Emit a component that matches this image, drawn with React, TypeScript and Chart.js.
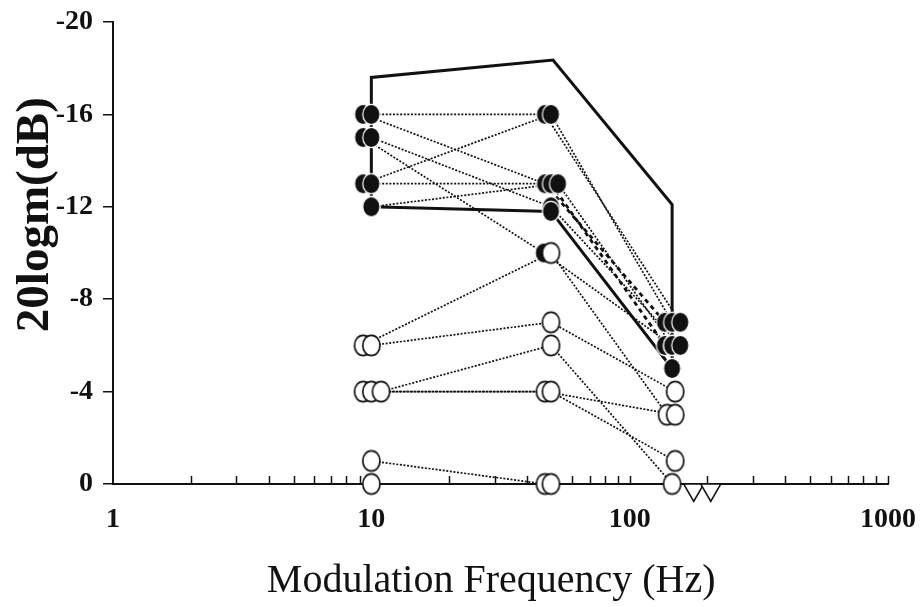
import React, { useEffect, useRef } from "react";
import { Chart, registerables } from "chart.js";

Chart.register(...registerables);

// ---- axis tick labels ----
const xTickLabels = [1, 10, 100, 1000];
const yTickValues = [0, -4, -8, -12, -16, -20];
const xMinorMultipliers = [2, 3, 4, 5, 6, 7, 8, 9, 10];
const xMinorDecades = [1, 10, 100];

// ---- subjects (modulation frequency in Hz, depth in dB) ----
const subjectNames = [
  "F1", "F2", "F3", "F4", "F5", "F6", "F7", "F8",
  "O1", "O2", "O3", "O4", "O5", "O6", "O7",
];
const subjectFreqs: number[][] = [
  [10, 47, 157],
  [9.29, 47, 137],
  [10, 49.6, 157],
  [9.29, 46.5, 146],
  [9.29, 49.6, 146],
  [10, 49.6, 137],
  [10, 52.8, 146],
  [10, 49.6, 146],
  [9.29, 49.6, 139.6],
  [10, 49.6, 150],
  [10.9, 49.6, 146],
  [10, 47, 150],
  [9.29, 49.6, 150],
  [10, 47],
  [10, 49.6],
];
const subjectDepths: number[][] = [
  [-16, -16, -7],
  [-16, -13, -7],
  [-15, -12, -6],
  [-15, -10, -6],
  [-13, -16, -7],
  [-13, -13, -6],
  [-12, -13, -6],
  [-12, -11.8, -5],
  [-6, -10, -3],
  [-6, -7, -4],
  [-4, -6, 0],
  [-4, -4, -3],
  [-4, -4, -1],
  [-1, 0],
  [0, 0],
];
const subjectFilled: boolean[][] = [
  [true, true, true],
  [true, true, true],
  [true, true, true],
  [true, true, true],
  [true, true, true],
  [true, true, true],
  [true, true, true],
  [true, true, true],
  [false, false, false],
  [false, false, false],
  [false, false, false],
  [false, false, false],
  [false, false, false],
  [false, false],
  [false, false],
];
// style of each segment: dot | dash | thick
const subjectSegments: string[][] = [
  ["dot", "dot"],
  ["dot", "dash"],
  ["dot", "dot"],
  ["dot", "dot"],
  ["dot", "dot"],
  ["dot", "dash"],
  ["dot", "dot"],
  ["thick", "thick"],
  ["dot", "dot"],
  ["dot", "dot"],
  ["dot", "dot"],
  ["dot", "dot"],
  ["dot", "dot"],
  ["dot"],
  ["dot"],
];

// upper envelope (thick solid)
const envelopeFreqs = [10, 10, 50.5, 146, 146];
const envelopeDepths = [-12, -17.6, -18.35, -12.1, -5];

// not measurable at 150 Hz (open triangles below 0)
const belowFreqs = [177, 206];
const belowDepths = [0.25, 0.25];

const INK = "#111";

function makeEllipse(fill: string, stroke: string, lw: number) {
  const c = document.createElement("canvas");
  c.width = 21;
  c.height = 25;
  const ctx = c.getContext("2d")!;
  ctx.beginPath();
  ctx.ellipse(10.5, 12.5, 8.6, 10.2, 0, 0, Math.PI * 2);
  ctx.fillStyle = fill;
  ctx.fill();
  ctx.lineWidth = lw;
  ctx.strokeStyle = stroke;
  ctx.stroke();
  return c;
}

function segDash(style: string) {
  if (style === "dot") return [2, 1.6];
  if (style === "dash") return [4.5, 4];
  return [];
}
function segWidth(style: string) {
  if (style === "dot") return 1.7;
  if (style === "dash") return 2.8;
  return 3;
}

const decorPlugin = {
  id: "decor",
  beforeDatasetsDraw(chart: any) {
    const { ctx, scales } = chart;
    const x = scales.x;
    const y = scales.y;
    ctx.save();
    ctx.strokeStyle = INK;
    ctx.lineWidth = 1.5;
    xMinorDecades.forEach((d) => {
      xMinorMultipliers.forEach((m) => {
        const px = Math.round(x.getPixelForValue(d * m)) + 0.5;
        ctx.beginPath();
        ctx.moveTo(px, y.bottom);
        ctx.lineTo(px, y.bottom - 8);
        ctx.stroke();
      });
    });
    ctx.restore();
  },
  afterDraw(chart: any) {
    const { ctx, chartArea } = chart;
    ctx.save();
    ctx.fillStyle = INK;
    ctx.textAlign = "center";
    ctx.textBaseline = "alphabetic";
    ctx.font = '40px "Liberation Serif"';
    const cx = chartArea.left + (chartArea.right - chartArea.left) * 0.488;
    ctx.fillText("Modulation Frequency (Hz)", cx, 592);
    ctx.translate(48, chartArea.top + (chartArea.bottom - chartArea.top) * 0.417);
    ctx.rotate(-Math.PI / 2);
    ctx.font = 'bold 47px "Liberation Serif"';
    ctx.fillText("20logm(dB)", 0, 0);
    ctx.restore();
  },
};

export default function App() {
  const ref = useRef<HTMLCanvasElement>(null);

  useEffect(() => {
    const filledImg = makeEllipse(INK, "#ffffff", 1.2);
    const openImg = makeEllipse("#ffffff", INK, 1.7);

    const allPoints = subjectNames.flatMap((_, i) =>
      subjectFreqs[i].map((f, j) => ({
        x: f,
        y: subjectDepths[i][j],
        filled: subjectFilled[i][j],
      }))
    );
    const filledPts = allPoints
      .filter((p) => p.filled)
      .sort((a, b) => a.x - b.x)
      .map(({ x, y }) => ({ x, y }));
    const openPts = allPoints
      .filter((p) => !p.filled)
      .sort((a, b) => a.x - b.x)
      .map(({ x, y }) => ({ x, y }));

    const lineSets = subjectNames.map((name, i) => ({
      label: name,
      data: subjectFreqs[i].map((f, j) => ({ x: f, y: subjectDepths[i][j] })),
      showLine: true,
      borderColor: INK,
      borderWidth: segWidth(subjectSegments[i][0]),
      pointRadius: 0,
      pointHoverRadius: 0,
      tension: 0,
      clip: false,
      order: 3,
      segment: {
        borderDash: (c: any) => segDash(subjectSegments[i][c.p0DataIndex]),
        borderWidth: (c: any) => segWidth(subjectSegments[i][c.p0DataIndex]),
      },
    }));

    const tickFont = { family: '"Liberation Serif"', size: 28, weight: "bold" };

    const chart = new Chart(ref.current!, {
      type: "scatter",
      data: {
        datasets: [
          ...lineSets,
          {
            label: "envelope",
            data: envelopeFreqs.map((f, j) => ({ x: f, y: envelopeDepths[j] })),
            showLine: true,
            borderColor: INK,
            borderWidth: 3,
            pointRadius: 0,
            tension: 0,
            clip: false,
            order: 3,
            borderJoinStyle: "miter",
          },
          {
            label: "filled",
            data: filledPts,
            showLine: false,
            pointStyle: filledImg,
            pointRadius: 9,
            clip: false,
            order: 1,
          },
          {
            label: "open",
            data: openPts,
            showLine: false,
            pointStyle: openImg,
            pointRadius: 9,
            clip: false,
            order: 0,
          },
          {
            label: "below",
            data: belowFreqs.map((f, j) => ({ x: f, y: belowDepths[j] })),
            showLine: false,
            pointStyle: "triangle",
            rotation: 180,
            pointRadius: 11.5,
            pointBackgroundColor: "#ffffff",
            pointBorderColor: INK,
            pointBorderWidth: 1.6,
            clip: false,
            order: 0,
          },
        ] as any,
      },
      options: {
        responsive: false,
        animation: false,
        devicePixelRatio: 1,
        layout: { padding: { top: 22, right: 33, left: 0, bottom: 0 } },
        plugins: {
          legend: { display: false },
          tooltip: { enabled: false },
          title: { display: false },
        },
        scales: {
          x: {
            type: "logarithmic",
            position: "bottom",
            min: 1,
            max: 1000,
            afterFit: (s: any) => {
              s.height = 123;
              s.paddingLeft = 0;
              s.paddingRight = 0;
            },
            afterBuildTicks: (s: any) => {
              s.ticks = xTickLabels.map((v) => ({ value: v }));
            },
            ticks: {
              autoSkip: false,
              maxRotation: 0,
              padding: 19,
              color: INK,
              font: tickFont,
              callback: (v: any) => String(v),
            },
            grid: { display: false, drawTicks: false, drawOnChartArea: false },
            border: { display: true, color: INK, width: 2 },
          },
          y: {
            type: "linear",
            reverse: true,
            min: -20,
            max: 0,
            afterFit: (s: any) => {
              s.width = 113;
              s.paddingTop = 0;
              s.paddingBottom = 0;
            },
            afterBuildTicks: (s: any) => {
              s.ticks = yTickValues.map((v) => ({ value: v }));
            },
            ticks: {
              padding: 10,
              color: INK,
              font: tickFont,
              callback: (v: any) => String(v),
            },
            grid: {
              display: true,
              drawOnChartArea: false,
              drawTicks: true,
              tickLength: 10,
              color: INK,
              lineWidth: 1.5,
            },
            border: { display: true, color: INK, width: 2 },
          },
        },
      } as any,
      plugins: [decorPlugin],
    });
    return () => chart.destroy();
  }, []);

  return (
    <div
      style={{
        position: "fixed",
        left: 0,
        top: 0,
        width: 921,
        height: 607,
        background: "#ffffff",
      }}
    >
      <canvas ref={ref} width={921} height={607} style={{ display: "block" }} />
    </div>
  );
}
